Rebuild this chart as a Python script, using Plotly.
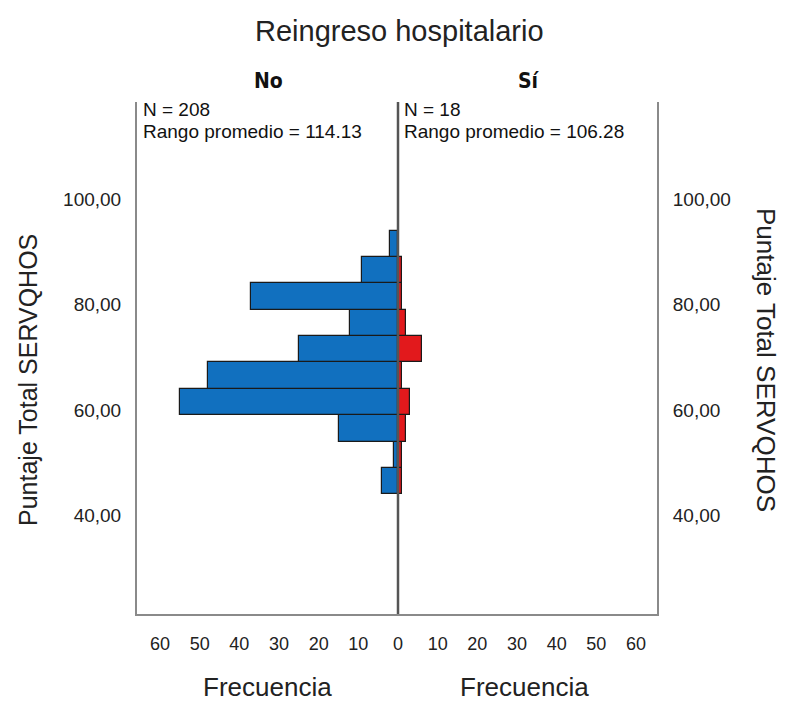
import plotly.graph_objects as go

# bin centres of Puntaje Total SERVQHOS (width 5)
bin_centers = [46.5, 51.5, 56.5, 61.5, 66.5, 71.5, 76.5, 81.5, 86.5, 91.5]
# frequencies per group
freq_no = [4, 1, 15, 55, 48, 25, 12, 37, 9, 2]
freq_si = [1, 1, 2, 3, 1, 6, 2, 1, 1, 0]

y_ticks = [40, 60, 80, 100]
y_ticktext = ["40,00", "60,00", "80,00", "100,00"]
x_ticks_left = [0, 10, 20, 30, 40, 50, 60]
x_ticks_right = [10, 20, 30, 40, 50, 60]

group_labels = ["No", "Sí"]
stats_no = ["N = 208", "Rango promedio = 114.13"]
stats_si = ["N = 18", "Rango promedio = 106.28"]

FONT = "Liberation Sans, Arial, sans-serif"
BORDER = "#8a8a8a"
split = 261 / 520
# the page body has an 8px margin, so the figure is shrunk by it
OFF = 8

fig = go.Figure()
fig.add_trace(go.Bar(
    y=bin_centers, x=freq_no, orientation="h", width=5,
    xaxis="x", yaxis="y",
    marker=dict(color="#1170BF", line=dict(color="#1a1a1a", width=1.2)),
    showlegend=False,
))
fig.add_trace(go.Bar(
    y=bin_centers, x=freq_si, orientation="h", width=5,
    xaxis="x2", yaxis="y2",
    marker=dict(color="#E2191C", line=dict(color="#1a1a1a", width=1.2)),
    showlegend=False,
))

# centre divider
fig.add_shape(type="line", xref="paper", yref="paper",
              x0=split, x1=split, y0=0, y1=1,
              line=dict(color="#555555", width=2.5))

xaxis_common = dict(
    showgrid=False, zeroline=False,
    showline=True, linecolor=BORDER, linewidth=2,
    ticks="", ticklabelstandoff=12,
    tickfont=dict(family=FONT, size=18, color="#222222"),
)
yaxis_common = dict(
    range=[21.3, 118.4], tickvals=y_ticks, ticktext=y_ticktext,
    showgrid=False, zeroline=False, showline=True, linecolor=BORDER,
    linewidth=2, ticks="", ticklabelstandoff=10,
    tickfont=dict(family=FONT, size=19, color="#222222"),
)

fig.update_layout(
    width=787 - OFF, height=705 - OFF,
    margin=dict(l=137 - OFF, r=787 - 657, t=102 - OFF, b=705 - 614),
    plot_bgcolor="white", paper_bgcolor="white",
    bargap=0,
    xaxis=dict(domain=[0, split], range=[65.8, 0], anchor="y",
               tickvals=x_ticks_left, **xaxis_common),
    xaxis2=dict(domain=[split, 1], range=[0, 65.3], anchor="y2",
                tickvals=x_ticks_right, **xaxis_common),
    yaxis=dict(anchor="x", side="left", **yaxis_common),
    yaxis2=dict(anchor="x2", side="right", **yaxis_common),
)

# window pixel -> paper helpers
def px(xp):
    return (xp - 137) / 520

def py(yp):
    return (614 - yp) / 512

ann = []
ann.append(dict(text="Reingreso hospitalario", x=px(399), y=py(31),
                font=dict(family=FONT, size=29, color="#222222")))
ann.append(dict(text="<b>%s</b>" % group_labels[0], x=px(268), y=py(81),
                font=dict(family="DejaVu Sans Condensed, DejaVu Sans", size=21, color="#111111")))
ann.append(dict(text="<b>%s</b>" % group_labels[1], x=px(529), y=py(81),
                font=dict(family="DejaVu Sans Condensed, DejaVu Sans", size=21, color="#111111")))
for x0, lines in [(141, stats_no), (402, stats_si)]:
    for i, line in enumerate(lines):
        ann.append(dict(text=line, x=px(x0), y=py(109 + 22 * i), xanchor="left",
                        font=dict(family=FONT, size=19, color="#111111")))
ann.append(dict(text="Frecuencia", x=px(267), y=py(687),
                font=dict(family=FONT, size=26, color="#222222")))
ann.append(dict(text="Frecuencia", x=px(524), y=py(687),
                font=dict(family=FONT, size=26, color="#222222")))
ann.append(dict(text="Puntaje Total SERVQHOS", x=px(28), y=py(380), textangle=-90,
                font=dict(family=FONT, size=25, color="#222222")))
ann.append(dict(text="Puntaje Total SERVQHOS", x=px(766), y=py(360), textangle=90,
                font=dict(family=FONT, size=26, color="#222222")))

for a in ann:
    a.setdefault("xanchor", "center")
    a.update(xref="paper", yref="paper", yanchor="middle", showarrow=False)
    fig.add_annotation(**a)

fig.write_html("out.html")
